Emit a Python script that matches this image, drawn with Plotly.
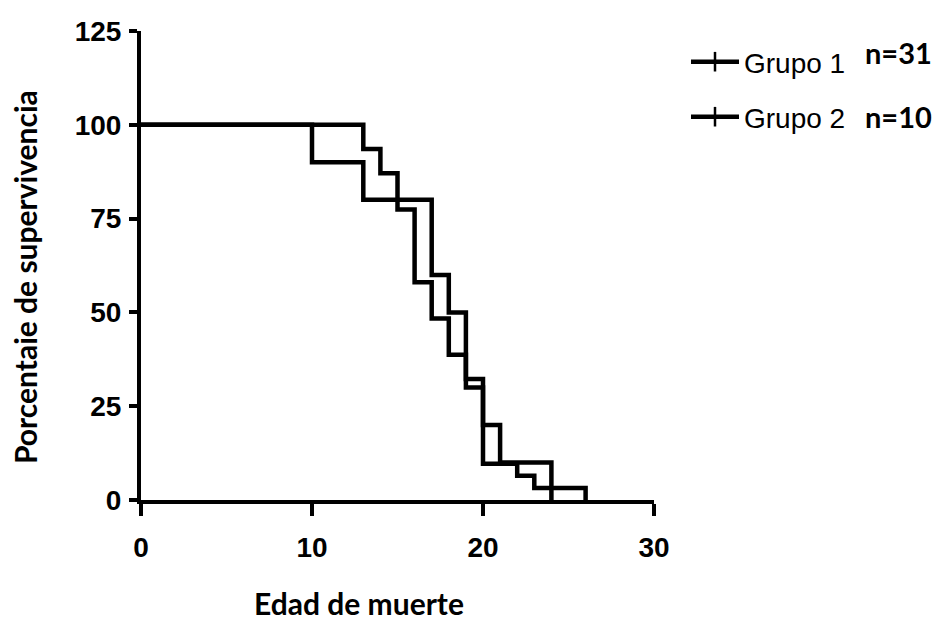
import plotly.graph_objects as go

# Kaplan-Meier survival data (step points: time, % survival)
grupo1_tiempo = [0, 13, 14, 15, 16, 17, 18, 19, 20, 22, 23, 26]
grupo1_superv = [100, 93.55, 87.10, 77.42, 58.06, 48.39, 38.71, 32.26, 9.68, 6.45, 3.23, 0]

grupo2_tiempo = [0, 10, 13, 17, 18, 19, 20, 21, 24]
grupo2_superv = [100, 90, 80, 60, 50, 30, 20, 10, 0]

series_nombres = ["Grupo 1", "Grupo 2"]
series_n = ["n=31", "n=10"]

x_ticks = [0, 10, 20, 30]
y_ticks = [0, 25, 50, 75, 100, 125]

NARROW = "'Liberation Sans Narrow', 'Arial Narrow', 'Liberation Sans', Arial, sans-serif"
TITLEF = "Lato, Carlito, Calibri, 'Open Sans', sans-serif"

fig = go.Figure()
for tx, sy in [(grupo1_tiempo, grupo1_superv), (grupo2_tiempo, grupo2_superv)]:
    fig.add_trace(go.Scatter(x=tx, y=sy, mode="lines", line=dict(color="black", width=4.5, shape="hv"),
                             showlegend=False, hoverinfo="skip"))

for i, nm in enumerate(series_nombres):
    fig.add_trace(go.Scatter(x=[None], y=[None], mode="lines+markers", name=nm,
                             line=dict(color="black", width=4.5),
                             marker=dict(symbol="line-ns", size=14, color="black",
                                         line=dict(width=2.5, color="black")),
                             legend="legend" if i == 0 else "legend2"))

L, R, T, B = 141, 282, 31, 120
W, H = 936, 620
pw, ph = W - L - R, H - T - B

def px_x(p):
    return (p - L) / pw

def px_y(p):
    return (H - B - p) / ph

leg_common = dict(xanchor="left", yanchor="middle", bgcolor="rgba(0,0,0,0)", borderwidth=0,
                  font=dict(family=NARROW, size=28, color="black"), itemwidth=48)

fig.update_layout(
    width=W, height=H,
    margin=dict(l=L, r=R, t=T, b=B, autoexpand=False),
    plot_bgcolor="white", paper_bgcolor="white",
    legend=dict(x=px_x(686), y=px_y(62), **leg_common),
    legend2=dict(x=px_x(686), y=px_y(117), **leg_common),
    xaxis=dict(range=[0, 30], tickvals=x_ticks, showgrid=False, zeroline=False,
               showline=True, linecolor="black", linewidth=4,
               ticks="outside", ticklen=12, tickwidth=3.5, tickcolor="black",
               tickfont=dict(family=NARROW, size=28, color="black", weight="bold"),
               ticklabelstandoff=7),
    yaxis=dict(range=[0, 125], tickvals=y_ticks, showgrid=False, zeroline=False,
               showline=True, linecolor="black", linewidth=4,
               ticks="outside", ticklen=8, tickwidth=3.5, tickcolor="black",
               tickfont=dict(family=NARROW, size=28, color="black", weight="bold"),
               ticklabelstandoff=2),
    annotations=[
        dict(text="Edad de muerte", xref="paper", yref="paper", x=px_x(359), y=px_y(603),
             xanchor="center", yanchor="middle", showarrow=False,
             font=dict(family=TITLEF, size=30, color="black", weight="bold")),
        dict(text="Porcentaie de supervivencia", xref="paper", yref="paper", x=px_x(25), y=px_y(277),
             xanchor="center", yanchor="middle", showarrow=False, textangle=-90,
             font=dict(family=TITLEF, size=30, color="black", weight="bold")),
        dict(text=series_n[0], xref="paper", yref="paper", x=px_x(863), y=px_y(53),
             xanchor="left", yanchor="middle", showarrow=False,
             font=dict(family=TITLEF, size=29, color="black", weight="bold")),
        dict(text=series_n[1], xref="paper", yref="paper", x=px_x(863), y=px_y(116),
             xanchor="left", yanchor="middle", showarrow=False,
             font=dict(family=TITLEF, size=29, color="black", weight="bold")),
    ],
)

fig.write_html("out.html")
